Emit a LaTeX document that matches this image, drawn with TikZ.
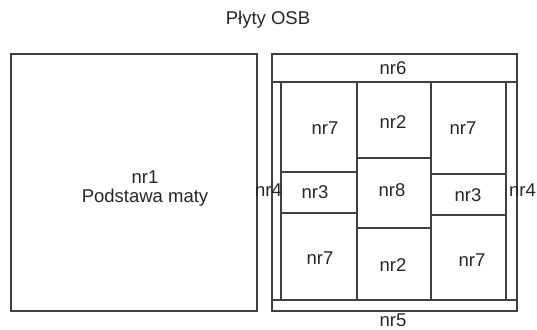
\documentclass[tikz,border=0pt]{standalone}
\usepackage{fontspec}
\setmainfont{Liberation Sans}
\begin{document}
\begin{tikzpicture}[x=1pt,y=-1pt,
  box/.style={draw=black!75, line width=1.1pt},
  lbl/.style={font=\fontsize{18.5}{19}\selectfont, text=black!85, inner sep=0pt}]
\useasboundingbox (0,0) rectangle (537,329);
% title
\node[lbl] (title) at (268,20) {Płyty OSB};
% base mat
\draw[box] (11,54) rectangle (257,311);
\node[lbl, align=center] (nr1) at (145,189) {nr1\\Podstawa maty};
% frame of the right panel
\draw[box] (272,54) rectangle (517,82);
\draw[box] (272,82) rectangle (281,300);
\draw[box] (506,82) rectangle (517,300);
\draw[box] (272,300) rectangle (517,311);
% left column
\draw[box] (281,82) rectangle (357,172);
\draw[box] (281,172) rectangle (357,213);
\draw[box] (281,213) rectangle (357,300);
% middle column
\draw[box] (357,82) rectangle (431,158);
\draw[box] (357,158) rectangle (431,228);
\draw[box] (357,228) rectangle (431,300);
% right column
\draw[box] (431,82) rectangle (506,174);
\draw[box] (431,174) rectangle (506,215);
\draw[box] (431,215) rectangle (506,300);
% labels
\node[lbl] (n6) at (393,68) {nr6};
\node[lbl] (n7a) at (325,128) {nr7};
\node[lbl] (n2a) at (393,122) {nr2};
\node[lbl] (n7b) at (463,128) {nr7};
\node[lbl] (n3a) at (315,192) {nr3};
\node[lbl] (n8) at (392,190) {nr8};
\node[lbl] (n3b) at (468,195) {nr3};
\node[lbl] (n7c) at (320,258) {nr7};
\node[lbl] (n2b) at (393,265) {nr2};
\node[lbl] (n7d) at (472,260) {nr7};
\node[lbl] (n5) at (393,320) {nr5};
\node[lbl, anchor=east] (n4a) at (282,190) {nr4};
\node[lbl, anchor=west] (n4b) at (509,190) {nr4};
\end{tikzpicture}
\end{document}
